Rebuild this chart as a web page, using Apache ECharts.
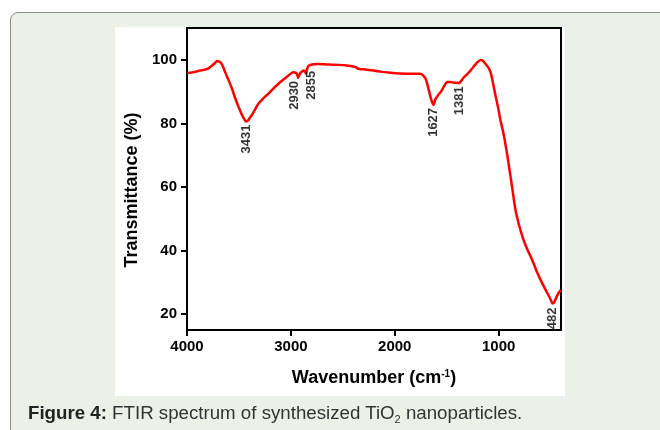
<!DOCTYPE html>
<html>
<head>
<meta charset="utf-8">
<script src="https://cdn.jsdelivr.net/npm/echarts@6/dist/echarts.min.js"></script>
<style>
  html, body { margin: 0; padding: 0; background: #ffffff; }
  #stage { position: relative; width: 660px; height: 430px; overflow: hidden; }
  .box {
    position: absolute; left: 10px; top: 12px; width: 700px; height: 500px;
    background: #ecf1e7; border: 1px solid #8e8e8e; border-radius: 8px;
  }
  .panel { position: absolute; left: 115px; top: 27px; width: 450px; height: 369px; background: #ffffff; }
  #chart { position: absolute; left: 0; top: 0; width: 660px; height: 430px; }
  .caption {
    position: absolute; left: 28px; top: 402px; white-space: nowrap;
    font-family: "Liberation Sans", Arial, sans-serif; font-size: 18.7px; line-height: 22px; color: #333333;
  }
  .caption b { color: #222222; }
  .caption sub { font-size: 11px; vertical-align: -4px; line-height: 0; }
</style>
</head>
<body>
<div id="stage">
  <div class="box"></div>
  <div class="panel"></div>
  <div id="chart"></div>
  <div class="caption"><b>Figure 4:</b> FTIR spectrum of synthesized TiO<sub>2</sub> nanoparticles.</div>
</div>
<script>
// FTIR spectrum of TiO2 nanoparticles: wavenumber (cm-1) and transmittance (%)
const wavenumbers = [
  4000, 3960, 3923, 3880, 3826, 3790, 3759, 3730, 3711, 3690, 3672, 3650, 3634, 3600,
  3566, 3540, 3508, 3470, 3445, 3431, 3410, 3390, 3364, 3340, 3315, 3270, 3219, 3170,
  3122, 3075, 3026, 2978, 2950, 2939, 2930, 2915, 2894, 2872, 2855, 2840, 2820, 2780,
  2737, 2680, 2621, 2540, 2460, 2400, 2370, 2355, 2300, 2206, 2120, 2042, 1950, 1820,
  1760, 1737, 1715, 1700, 1680, 1660, 1640, 1627, 1608, 1585, 1560, 1530, 1496, 1464,
  1430, 1399, 1381, 1360, 1335, 1300, 1271, 1240, 1206, 1174, 1150, 1126, 1100, 1078,
  1055, 1030, 1005, 982, 960, 943, 917, 892, 868, 844, 825, 805, 780, 757, 725, 692,
  660, 628, 590, 548, 515, 495, 482, 465, 442, 420, 403
];
const transmittance = [
  95.8, 96.0, 96.2, 96.6, 96.9, 97.4, 98.2, 99.0, 99.6, 99.4, 99.0, 97.6, 96.2, 93.6,
  90.8, 88.3, 85.5, 82.6, 81.1, 80.6, 81.0, 82.0, 83.2, 84.7, 86.1, 87.7, 89.3, 90.9,
  92.4, 93.7, 95.0, 96.1, 95.9, 95.3, 94.3, 95.5, 96.3, 96.6, 95.6, 97.6, 98.3, 98.6,
  98.7, 98.6, 98.5, 98.4, 98.2, 97.9, 97.6, 97.2, 97.0, 96.6, 96.2, 95.9, 95.7, 95.6,
  95.6, 95.4, 94.6, 93.8, 91.5, 88.8, 86.6, 85.8, 87.7, 88.8, 89.8, 91.4, 93.0, 93.0,
  92.8, 92.8, 92.6, 93.4, 94.5, 95.6, 96.6, 97.9, 99.2, 99.9, 99.6, 98.7, 97.6, 96.1,
  92.8, 88.7, 84.9, 80.8, 77.8, 75.0, 70.0, 64.6, 59.3, 53.9, 50.8, 48.2, 45.3, 43.0, 40.4, 38.1,
  35.6, 33.0, 30.3, 27.6, 25.6, 24.2, 23.3, 23.8, 25.5, 26.8, 27.6
];

// Assigned absorption bands
const peakWavenumbers = [3431, 2930, 2855, 1627, 1381, 482];
// Axis ticks
const xTicks = [1000, 2000, 3000, 4000];
const yTicks = [20, 40, 60, 80, 100];

// Screen-space nudges [dx, dy] so neighbouring band labels do not collide
const peakLabelShift = { 2930: [-4, 0], 2855: [5, -6], 482: [0, 1] };

const spectrum = wavenumbers.map((w, i) => [w, transmittance[i]]);
const peaks = peakWavenumbers.map(w => {
  const i = wavenumbers.indexOf(w);
  const s = peakLabelShift[w] || [0, 0];
  // labels are turned 90°, so their local offset axes are swapped
  return { value: [w, transmittance[i]], label: { offset: [-s[1], s[0]] } };
});

const chart = echarts.init(document.getElementById('chart'), null, { renderer: 'canvas' });
const axisFont = 'Liberation Sans';

chart.setOption({
  backgroundColor: 'transparent',
  animation: false,
  grid: {
    left: 187, right: 99, top: 28, bottom: 100,
    show: true, borderColor: '#000000', borderWidth: 2, backgroundColor: 'transparent'
  },
  xAxis: {
    type: 'value', inverse: true, min: 400, max: 4000,
    name: 'Wavenumber (cm{sup|-1})',
    nameLocation: 'middle', nameGap: 39,
    nameTextStyle: {
      fontFamily: axisFont, fontSize: 18, fontWeight: 'bold', color: '#000',
      rich: { sup: { fontFamily: axisFont, fontSize: 10, fontWeight: 'bold', color: '#000', verticalAlign: 'top', padding: [0, 0, 9, 0] } }
    },
    axisLine: { show: true, onZero: false, lineStyle: { color: '#000', width: 2 } },
    axisTick: { show: true, inside: false, length: 6, lineStyle: { color: '#000', width: 2 }, customValues: xTicks },
    axisLabel: {
      show: true, margin: 9, fontFamily: axisFont, fontSize: 15, fontWeight: 'bold', color: '#000',
      customValues: xTicks, formatter: v => String(v)
    },
    splitLine: { show: false }
  },
  yAxis: {
    type: 'value', min: 15, max: 110,
    name: 'Transmittance (%)',
    nameLocation: 'middle', nameGap: 44, nameRotate: 90,
    nameTextStyle: { fontFamily: axisFont, fontSize: 18, fontWeight: 'bold', color: '#000', padding: [0, 22, 0, 0] },
    axisLine: { show: true, onZero: false, lineStyle: { color: '#000', width: 2 } },
    axisTick: { show: true, inside: false, length: 6, lineStyle: { color: '#000', width: 2 }, customValues: yTicks },
    axisLabel: {
      show: true, margin: 10, fontFamily: axisFont, fontSize: 15, fontWeight: 'bold', color: '#000',
      customValues: yTicks, formatter: v => String(v)
    },
    splitLine: { show: false }
  },
  series: [
    {
      name: 'TiO2',
      type: 'line',
      data: spectrum,
      showSymbol: false,
      smooth: 0.2,
      lineStyle: { color: '#ff0000', width: 2.5 },
      z: 3
    },
    {
      name: 'bands',
      type: 'scatter',
      data: peaks,
      symbolSize: 0,
      silent: true,
      label: {
        show: true, position: 'bottom', distance: 3, rotate: 90,
        align: 'right', verticalAlign: 'middle',
        fontFamily: axisFont, fontSize: 13, fontWeight: 'bold', color: '#000',
        formatter: p => String(p.value[0])
      },
      z: 4
    }
  ]
});
</script>
</body>
</html>
